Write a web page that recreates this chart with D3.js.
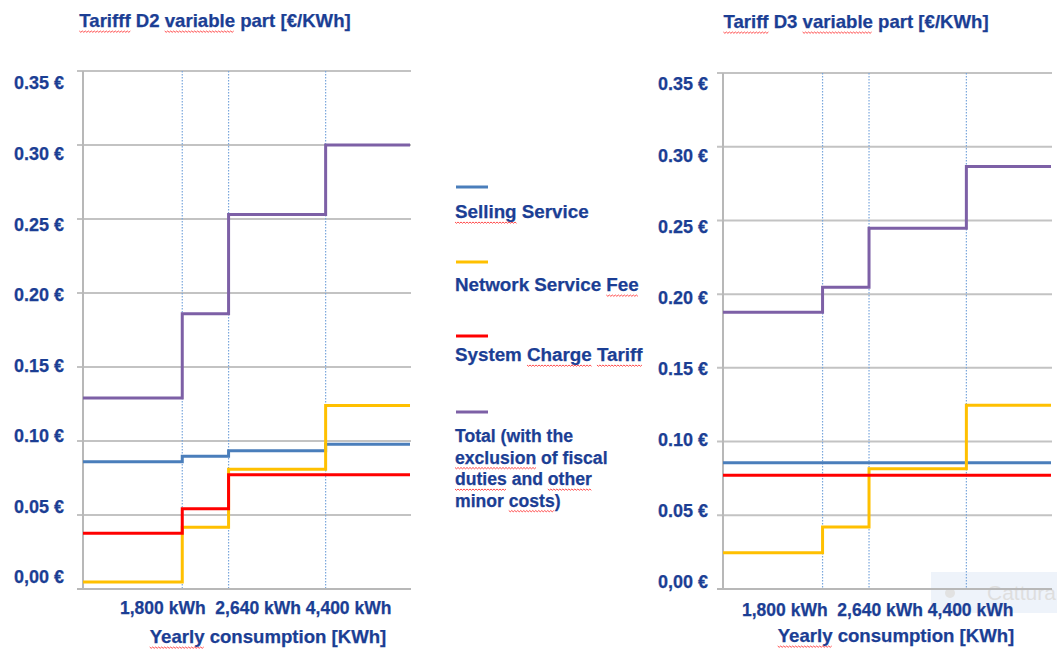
<!DOCTYPE html>
<html>
<head>
<meta charset="utf-8">
<script src="https://cdn.jsdelivr.net/npm/d3@7/dist/d3.min.js"></script>
<style>
  html, body { margin: 0; padding: 0; background: #ffffff; }
  svg { display: block; }
  text { font-family: "Liberation Sans", Arial, sans-serif; font-weight: bold; fill: #1b3e94; stroke: #1b3e94; stroke-width: 0.25px; }
</style>
</head>
<body>
<svg id="chart" width="1057" height="649"></svg>
<script>
// ---------------- data ----------------
const breakpoints = [0, 1800, 2640, 4400, 5930];          // kWh, start of each step + end of axis
const bandTicks = [1800, 2640, 4400];
const bandTickLabels = ["1,800 kWh", "2,640 kWh", "4,400 kWh"];
const yTicks = [0, 0.05, 0.10, 0.15, 0.20, 0.25, 0.30, 0.35];
const yTickLabels = ["0,00 €", "0.05 €", "0.10 €", "0.15 €", "0.20 €", "0.25 €", "0.30 €", "0.35 €"];
const seriesNames = ["Selling Service", "Network Service Fee", "System Charge Tariff", "Total"];
const totalLegendLines = ["Total (with the", "exclusion of fiscal", "duties and other", "minor costs)"];
const seriesColors = ["#4a7ebb", "#ffc000", "#ff0000", "#7d60a6"];

const d2Selling = [0.0860, 0.0897, 0.0934, 0.0978];
const d2Network = [0.0047, 0.0417, 0.0809, 0.1240];
const d2System  = [0.0376, 0.0543, 0.0772, 0.0772];
const d2Total   = [0.1290, 0.1860, 0.2530, 0.3000];

const d3Selling = [0.0857, 0.0857, 0.0857, 0.0857];
const d3Network = [0.0246, 0.0421, 0.0816, 0.1246];
const d3System  = [0.0771, 0.0771, 0.0771, 0.0771];
const d3Total   = [0.1877, 0.2047, 0.2447, 0.2865];

const titles = ["Tarifff D2 variable part [€/KWh]", "Tariff D3 variable part [€/KWh]"];
const xAxisTitle = "Yearly consumption [KWh]";

// ---------------- layout ----------------
const svg = d3.select("#chart");

// faint screen-capture overlay at bottom right (drawn underneath)
const wm = svg.append("g");
wm.append("rect").attr("x", 931).attr("y", 572).attr("width", 126).attr("height", 41)
  .attr("fill", "#eef3fa");
wm.append("circle").attr("cx", 950).attr("cy", 593).attr("r", 5).attr("fill", "#e2e2e2");
wm.append("text").attr("x", 987).attr("y", 600).style("font-size", "21px")
  .style("font-weight", "normal").style("fill", "#dedede").style("stroke", "none").text("Cattura");

const panels = [
  { series: [d2Selling, d2Network, d2System, d2Total], title: titles[0],
    x0: 83, x1: 410, yTop: 71, yBot: 589, titleX: 215, titleY: 27,
    labTop: 83, labBot: 577, labRight: 64, tickStartX: 120, tickY: 614,
    axTitleX: 268, axTitleY: 643, spell: ["Tarifff", "variable"] },
  { series: [d3Selling, d3Network, d3System, d3Total], title: titles[1],
    x0: 723, x1: 1051, yTop: 73, yBot: 589, titleX: 856, titleY: 28,
    labTop: 84, labBot: 582, labRight: 708, tickStartX: 742, tickY: 616,
    axTitleX: 896, axTitleY: 642, spell: ["Tariff", "variable"] }
];

// wavy red "spell-check" underline below given words of a text element
function squiggle(textNode, words, parent) {
  const str = textNode.textContent;
  words.forEach(w => {
    const i = str.indexOf(w);
    if (i < 0) return;
    const a = textNode.getStartPositionOfChar(i);
    const b = textNode.getEndPositionOfChar(i + w.length - 1);
    const y = a.y + 4;
    const pts = [];
    for (let x = a.x, k = 0; x <= b.x; x += 1.5, k++) pts.push([x, y + (k % 2 ? 1.3 : 0)]);
    parent.append("path").attr("d", d3.line()(pts))
      .attr("fill", "none").attr("stroke", "#ff4d4d").attr("stroke-width", 1);
  });
}

panels.forEach(p => {
  const g = svg.append("g");
  const x = d3.scaleLinear().domain([0, breakpoints[breakpoints.length - 1]]).range([p.x0, p.x1]);
  const y = d3.scaleLinear().domain([0, 0.35]).range([p.yBot, p.yTop]);
  const yLab = d3.scaleLinear().domain([0, 0.35]).range([p.labBot, p.labTop]);

  // horizontal gridlines (with small tick extension to the left)
  g.append("g").selectAll("line").data(yTicks).join("line")
    .attr("x1", p.x0 - 6).attr("x2", p.x1 + 1)
    .attr("y1", d => y(d)).attr("y2", d => y(d))
    .attr("stroke", "#c3c3c3").attr("stroke-width", 2);

  // dotted vertical band lines
  g.append("g").selectAll("line").data(bandTicks).join("line")
    .attr("x1", d => x(d)).attr("x2", d => x(d))
    .attr("y1", y(0.35)).attr("y2", y(0))
    .attr("stroke", "#79a6dc").attr("stroke-width", 1.2).attr("stroke-dasharray", "1.5,1.5");

  // axis lines
  g.append("line").attr("x1", p.x0).attr("x2", p.x0).attr("y1", y(0.35)).attr("y2", y(0) + 1)
    .attr("stroke", "#b8b8b8").attr("stroke-width", 2);
  g.append("line").attr("x1", p.x0 - 6).attr("x2", p.x1 + 1).attr("y1", y(0)).attr("y2", y(0))
    .attr("stroke", "#b8b8b8").attr("stroke-width", 2);

  // step series
  const line = d3.line().x(d => x(d[0])).y(d => y(d[1])).curve(d3.curveStepAfter);
  p.series.forEach((vals, si) => {
    const pts = vals.map((v, i) => [breakpoints[i], v]);
    pts.push([breakpoints[breakpoints.length - 1], vals[vals.length - 1]]);
    g.append("path").attr("d", line(pts))
      .attr("fill", "none").attr("stroke", seriesColors[si]).attr("stroke-width", 3)
      .attr("stroke-linejoin", "miter");
  });

  // y tick labels
  g.append("g").selectAll("text").data(yTicks).join("text")
    .attr("x", p.labRight).attr("y", d => yLab(d)).attr("dy", "0.36em")
    .attr("text-anchor", "end").style("font-size", "18px")
    .text((d, i) => yTickLabels[i]);

  // band tick labels (flowing line of text)
  const tt = g.append("text").attr("x", p.tickStartX).attr("y", p.tickY)
    .style("font-size", "17.5px").attr("xml:space", "preserve").style("white-space", "pre");
  bandTickLabels.forEach((l, i) => {
    tt.append("tspan").text((i === 0 ? "" : (i === 1 ? "  " : " ")) + l);
  });

  // x axis title
  const at = g.append("text").attr("x", p.axTitleX).attr("y", p.axTitleY)
    .attr("text-anchor", "middle").style("font-size", "18.6px").text(xAxisTitle);
  squiggle(at.node(), ["Yearly"], g);

  // chart title
  const tn = g.append("text").attr("x", p.titleX).attr("y", p.titleY)
    .attr("text-anchor", "middle").style("font-size", "18.6px").text(p.title);
  squiggle(tn.node(), p.spell, g);
});

// ---------------- legend ----------------
const lg = svg.append("g");
const legendLineY = [187, 262, 336, 412];
const legendTextY = [218, 291, 361];
const legendSpell = [["Selling"], ["Fee"], ["Charge", "Tariff"]];
seriesNames.forEach((name, i) => {
  lg.append("line").attr("x1", 456).attr("x2", 488)
    .attr("y1", legendLineY[i]).attr("y2", legendLineY[i])
    .attr("stroke", seriesColors[i]).attr("stroke-width", 3);
  if (i < 3) {
    const t = lg.append("text").attr("x", 455).attr("y", legendTextY[i])
      .style("font-size", "18.8px").text(name);
    squiggle(t.node(), legendSpell[i], lg);
  }
});
const totalSpell = [[], ["exclusion"], ["duties", "other"], ["costs"]];
totalLegendLines.forEach((l, i) => {
  const t = lg.append("text").attr("x", 455).attr("y", 442 + i * 21.5)
    .style("font-size", "17.6px").text(l);
  squiggle(t.node(), totalSpell[i], lg);
});
</script>
</body>
</html>
